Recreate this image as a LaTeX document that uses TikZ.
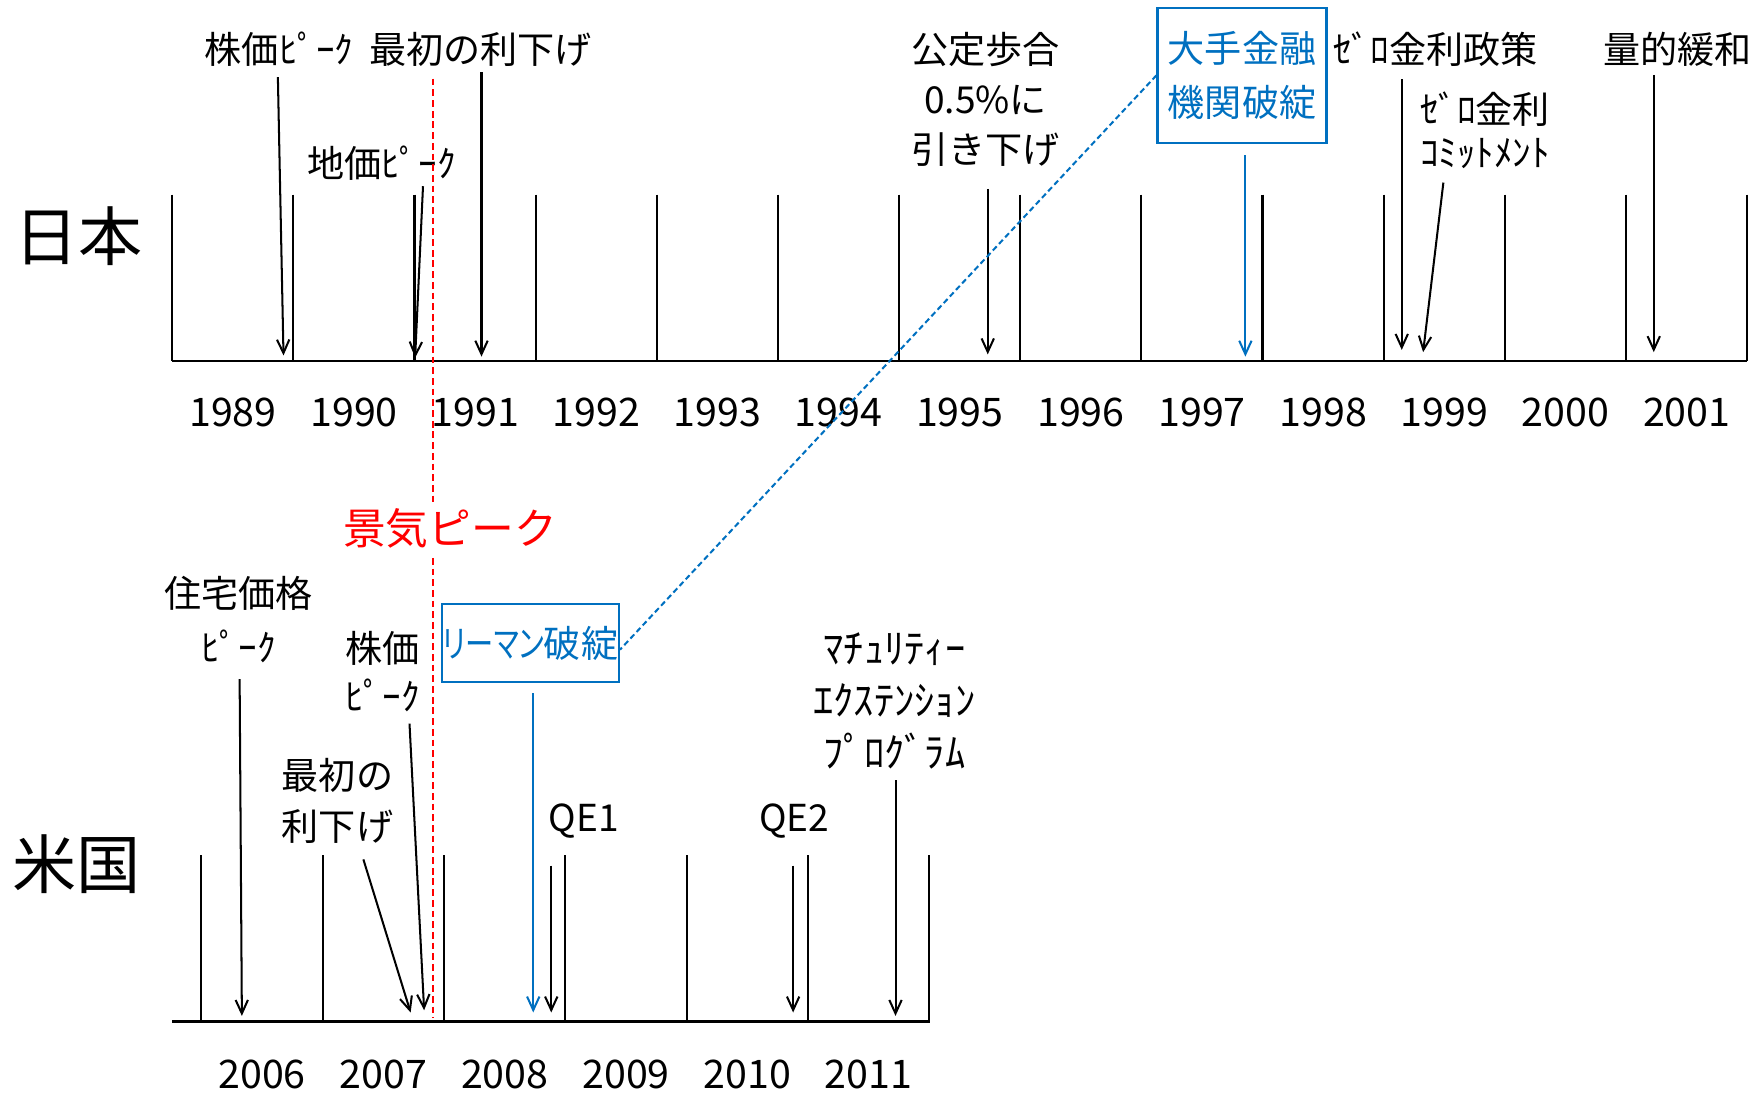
\documentclass[tikz,border=0pt]{standalone}
\usepackage{fontspec}
\setmainfont{Noto Sans CJK JP}
\newfontfamily\kananarrow{Noto Sans CJK JP}[FakeStretch=0.76,RawFeature=+palt]
\usetikzlibrary{arrows.meta,calc}
\definecolor{mblue}{RGB}{0,112,192}
\definecolor{mred}{RGB}{255,0,0}
\begin{document}
\begin{tikzpicture}[x=1pt,y=-1pt,
  lbl/.style={inner sep=0pt, align=center, font=\fontsize{33}{45}\selectfont},
  yr/.style={inner sep=0pt, font=\fontsize{35}{40}\selectfont},
  big/.style={inner sep=0pt, font=\fontsize{57}{60}\selectfont},
  arr/.style={line width=1.8pt, -{Straight Barb[length=12pt,width=11pt,line width=1.8pt]}},
  barr/.style={arr, draw=mblue},
  tickline/.style={line width=1.9pt},
  axisline/.style={line width=2.3pt},
  bbox/.style={draw=mblue, line width=2.2pt, text=mblue, inner sep=0pt, align=center},
]
\useasboundingbox (0,0) rectangle (1568,971);

% ---------- Japan ----------
\node[big] (jp) at (70,210) {日本};
\draw[axisline] (153,321) -- (1553,321);
\foreach \k in {0,...,13} \draw[tickline] ({153+\k*107.69},173) -- ({153+\k*107.69},321);
\foreach \y [count=\i from 0] in {1989,...,2001} \node[yr] (y\y) at ({207+\i*107.69},367) {\y};

\node[lbl] (kabu) at (248,44) {株価ﾋﾟｰｸ};
\node[lbl] (riage) at (427,44) {最初の利下げ};
\node[lbl] (chika) at (339,145) {地価ﾋﾟｰｸ};
\node[lbl, font=\fontsize{33}{44.5}\selectfont] (kotei) at (876,88) {公定歩合\\0.5\%に\\引き下げ};
\node[bbox, font=\fontsize{33}{48}\selectfont, minimum width=150, minimum height=120] (daite) at (1104,67) {大手金融\\機関破綻};
\node[lbl] (zero) at (1276,44) {ｾﾞﾛ金利政策};
\node[lbl, font=\fontsize{33}{38}\selectfont] (zeroc) at (1320,116) {ｾﾞﾛ金利\\ｺﾐｯﾄﾒﾝﾄ};
\node[lbl] (ryo) at (1491,44) {量的緩和};

\coordinate (t1) at (252,316);
\coordinate (t2) at (428,317);
\coordinate (t3) at (369,318);
\coordinate (t4) at (878,315);
\coordinate (t5) at (1107,317);
\coordinate (t6) at (1246,311);
\coordinate (t7) at (1265,313);
\coordinate (t8) at (1470,313);

\draw[arr] ($(kabu.south)+(-1,9)$) -- (t1);
\draw[arr] ($(riage.south)+(1,5)$) -- (t2);
\draw[arr] ($(chika.south)+(37,5)$) -- (t3);
\draw[arr] ($(kotei.south)+(2,20)$) -- (t4);
\draw[barr] ($(daite.south)+(3,10)$) -- (t5);
\draw[arr] ($(zero.south)+(-30,11)$) -- (t6);
\draw[arr] ($(zeroc.south)+(-37,12)$) -- (t7);
\draw[arr] ($(ryo.south)+(-21,7)$) -- (t8);

% ---------- US ----------
\node[big] (us) at (68,768) {米国};
\draw[axisline] (153,908) -- (827,908);
\foreach \k in {0,...,6} \draw[tickline] ({179+\k*107.83},760) -- ({179+\k*107.83},908);
\foreach \y [count=\i from 0] in {2006,...,2011} \node[yr] (y\y) at ({233+\i*107.83},955) {\y};

\node[lbl, font=\fontsize{33}{48}\selectfont] (jutaku) at (212,551) {住宅価格\\ﾋﾟｰｸ};
\node[lbl, font=\fontsize{33}{43}\selectfont] (kabu2) at (340,597) {株価\\ﾋﾟｰｸ};
\node[lbl, font=\fontsize{33}{45}\selectfont] (riage2) at (300,712) {最初の\\利下げ};
\node[bbox, font=\fontsize{33}{40}\selectfont, minimum width=157, minimum height=69] (lehman) at (471.5,571.5) {{\kananarrow リーマン}破綻};
\node[lbl] (qe1) at (519,730) {QE1};
\node[lbl] (qe2) at (706,730) {QE2};
\node[lbl, font=\fontsize{36}{46}\selectfont] (mat) at (795,623) {ﾏﾁｭﾘﾃｨｰ\\ｴｸｽﾃﾝｼｮﾝ\\ﾌﾟﾛｸﾞﾗﾑ};

\coordinate (u1) at (215,903);
\coordinate (u2) at (377,898);
\coordinate (u3) at (365,900);
\coordinate (u4) at (474,900);
\coordinate (u5) at (490,900);
\coordinate (u6) at (705,900);
\coordinate (u7) at (796,903);

\draw[arr] ($(jutaku.south)+(1,14)$) -- (u1);
\draw[arr] ($(kabu2.south)+(24,10)$) -- (u2);
\draw[arr] ($(riage2.south)+(23,14)$) -- (u3);
\draw[barr] ($(lehman.south)+(2.5,9)$) -- (u4);
\draw[arr] ($(qe1.south)+(-29,24)$) -- (u5);
\draw[arr] ($(qe2.south)+(-1,24)$) -- (u6);
\draw[arr] ($(mat.south)+(1,10)$) -- (u7);

% ---------- links ----------
\node[inner sep=0pt, text=mred, font=\fontsize{38}{40}\selectfont] (keiki) at (400,470) {景気ピーク};
\coordinate (rtop) at (385,70);
\coordinate (rbot) at (385,905);
\draw[mred, line width=2.3pt, dash pattern=on 6pt off 3.5pt] (rtop) -- ([yshift=4pt]rtop |- keiki.north);
\draw[mred, line width=2.3pt, dash pattern=on 6pt off 3.5pt] ([yshift=-8pt]rbot |- keiki.south) -- (rbot);
\draw[mblue, line width=1.8pt, dash pattern=on 5pt off 3pt] (daite.west) -- ($(lehman.east)+(0,6)$);
\end{tikzpicture}
\end{document}
